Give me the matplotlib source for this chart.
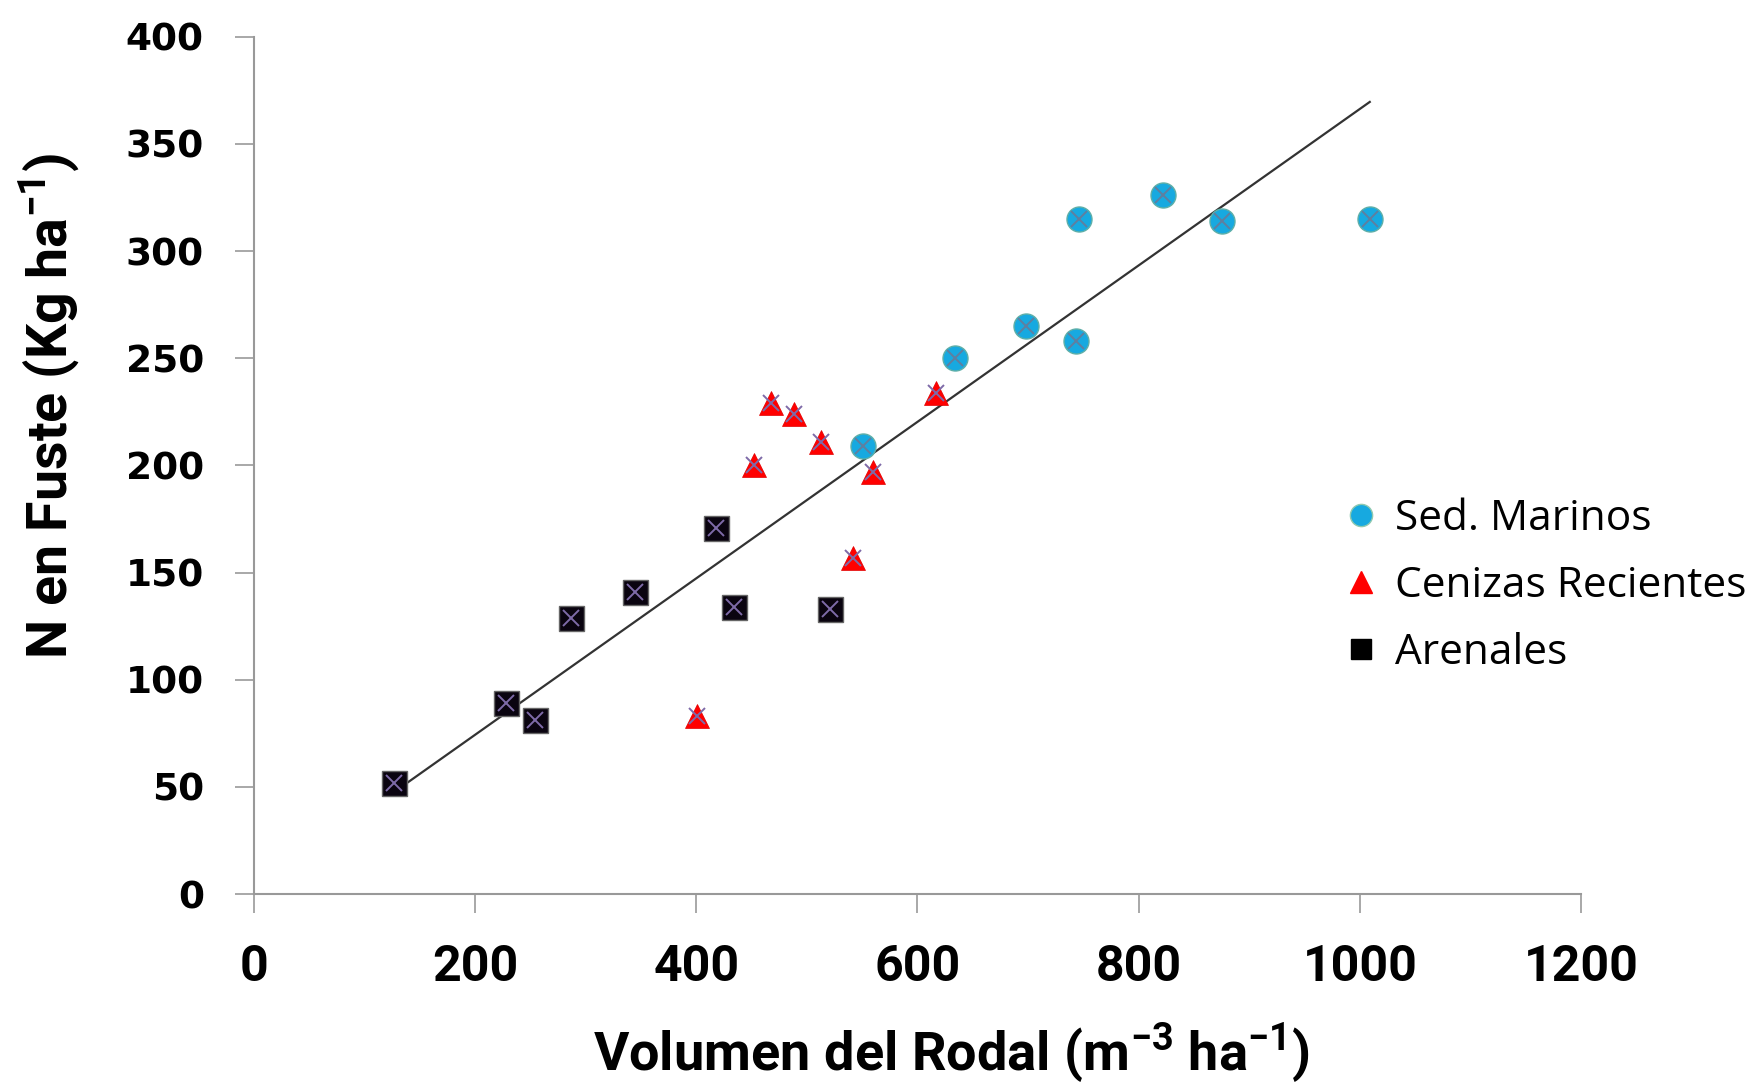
import matplotlib
matplotlib.use('Agg')
from matplotlib import pyplot as plt
from matplotlib.lines import Line2D
import numpy as np

# Sed. Marinos
sed_x = [551, 634, 698, 743, 746, 822, 875, 1009]
sed_y = [209, 250, 265, 258, 315, 326, 314, 315]

# Cenizas Recientes
cen_x = [401, 452, 468, 488, 513, 542, 560, 617]
cen_y = [83, 200, 229, 224, 211, 157, 197, 234]

# Arenales
are_x = [127, 228, 254, 287, 345, 418, 434, 521]
are_y = [52, 89, 81, 129, 141, 171, 134, 133]

# trend line
trend_slope = 0.365
trend_intercept = 1.3

x_ticks = [0, 200, 400, 600, 800, 1000, 1200]
y_ticks = [0, 50, 100, 150, 200, 250, 300, 350, 400]

fig = plt.figure(figsize=(17.46, 10.87), dpi=100)
ax = fig.add_axes([0.1454, 0.1775, 0.7601, 0.7887])

all_x = np.array(sed_x + cen_x + are_x)
tx = np.array([all_x.min(), all_x.max()])
ax.plot(tx, trend_slope * tx + trend_intercept, color='#333333', lw=1.6, zorder=2)

ax.plot(sed_x, sed_y, 'o', ms=18, mfc='#17A9E0', mec='#5FAFA8', mew=1, zorder=3)
ax.plot(cen_x, cen_y, '^', ms=17, mfc='#FF0000', mec='#E00000', mew=0.5, zorder=3)
ax.plot(are_x, are_y, 's', ms=18, mfc='#0A0410', mec='#666666', mew=1, zorder=3)

# the small x marks on top of each point
ax.plot(sed_x, sed_y, 'x', ms=11, mec='#5F7FA0', mew=1.4, zorder=4)
ax.plot(cen_x, cen_y, 'x', ms=11, mec='#7E6AA8', mew=1.4, zorder=4)
ax.plot(are_x, are_y, 'x', ms=11, mec='#7E6AA8', mew=1.4, zorder=4)

ax.set_xlim(0, 1200)
ax.set_ylim(0, 400)
ax.set_xticks(x_ticks)
ax.set_yticks(y_ticks)

for s in ['top', 'right']:
    ax.spines[s].set_visible(False)
for s in ['left', 'bottom']:
    ax.spines[s].set_color('#999999')
    ax.spines[s].set_linewidth(1.5)

ax.tick_params(axis='both', direction='out', length=14, width=1.2, color='#999999')
ax.tick_params(axis='y', pad=22)
ax.tick_params(axis='x', pad=22)

for lab in ax.get_yticklabels():
    lab.set_fontfamily('DejaVu Sans')
    lab.set_fontweight('bold')
    lab.set_fontsize(27)
for lab in ax.get_xticklabels():
    lab.set_fontfamily('Roboto')
    lab.set_fontweight('bold')
    lab.set_fontsize(36)

ax.set_xlabel('Volumen del Rodal (m$^{\\mathregular{-3}}$ ha$^{\\mathregular{-1}}$)',
              family='Roboto', fontweight='bold', fontsize=39)
ax.set_ylabel('N en Fuste (Kg ha$^{\\mathregular{-1}}$)',
              family='Roboto', fontweight='bold', fontsize=40)
ax.xaxis.set_label_coords(0.526, -0.147)
ax.yaxis.set_label_coords(-0.130, 0.569)

handles = [
    Line2D([], [], ls='', marker='o', ms=16, mfc='#17A9E0', mec='#8FC9B0', mew=1),
    Line2D([], [], ls='', marker='^', ms=16, mfc='#FF0000', mec='#FF0000'),
    Line2D([], [], ls='', marker='s', ms=14, mfc='#000000', mec='#000000'),
]
ax.legend(handles, ['Sed. Marinos', 'Cenizas Recientes', 'Arenales'],
          loc='upper left', bbox_to_anchor=(0.818, 0.462), frameon=False,
          prop={'family': 'Open Sans', 'size': 30.5}, handletextpad=0.31,
          handlelength=1.0, labelspacing=0.59, borderaxespad=0, borderpad=0)

plt.savefig('out.png', dpi=100)
